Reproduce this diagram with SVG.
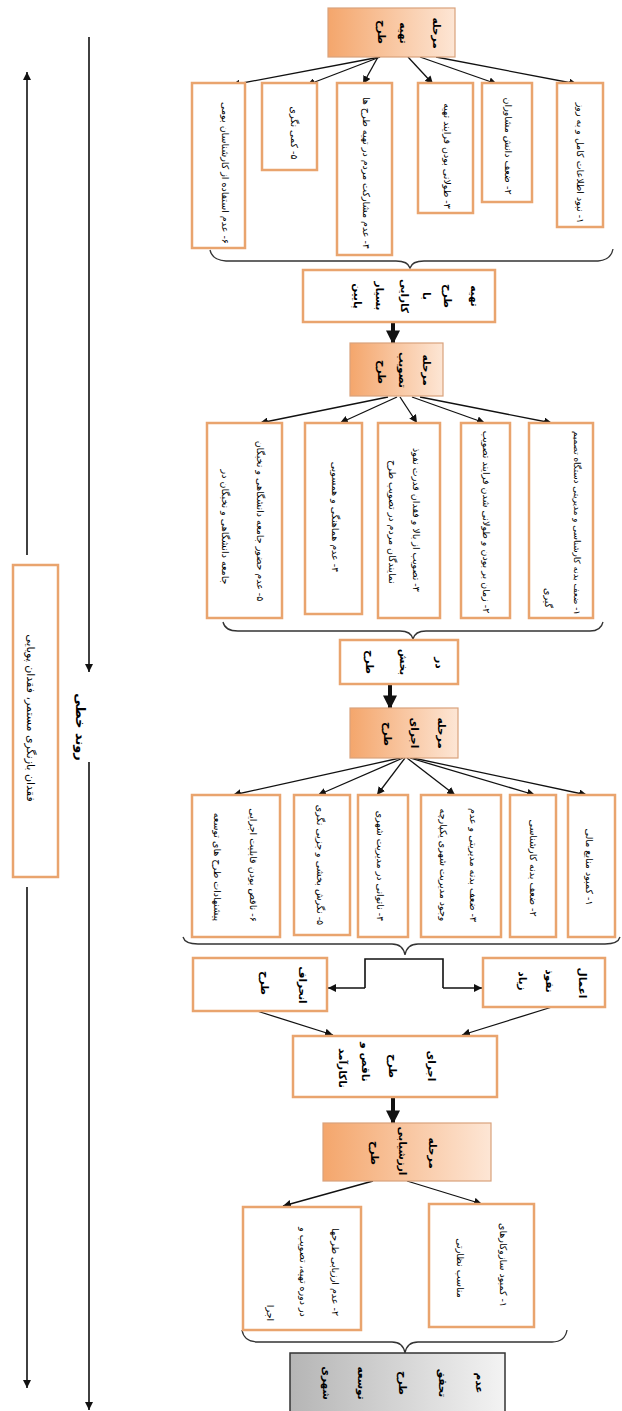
<svg xmlns="http://www.w3.org/2000/svg" width="622" height="1411" viewBox="0 0 622 1411">
<style>
.box{fill:#fff;stroke:#E9A46E;stroke-width:2.5}
.hdr{fill:url(#og);stroke:#D9A27C;stroke-width:1.2}
.gry{fill:url(#gg);stroke:#333;stroke-width:1.5}
.t{font-family:"DejaVu Sans",sans-serif;font-size:9.5px;fill:#000;text-anchor:middle;dominant-baseline:central;direction:rtl}
.h{font-size:10.5px;font-weight:bold}
.b{font-weight:bold}
.c{fill:none;stroke:#111;stroke-width:1.3}
.k{fill:none;stroke:#111;stroke-width:4}
.br{fill:none;stroke:#333;stroke-width:1.3}
</style>
<defs>
<linearGradient id="og" x1="0" y1="0" x2="1" y2="0">
<stop offset="0" stop-color="#F4A66C"/>
<stop offset="1" stop-color="#FDE6D5"/>
</linearGradient>
<linearGradient id="gg" x1="0" y1="0" x2="1" y2="0">
<stop offset="0" stop-color="#B5B5B5"/>
<stop offset="1" stop-color="#F3F3F3"/>
</linearGradient>
<marker id="a" viewBox="0 0 10 10" refX="10" refY="5" markerWidth="8" markerHeight="8" markerUnits="userSpaceOnUse" orient="auto">
<path d="M0,0 L10,5 L0,10 z" fill="#111"/>
</marker>
<marker id="A" viewBox="0 0 10 10" refX="9" refY="5" markerWidth="14" markerHeight="14" markerUnits="userSpaceOnUse" orient="auto">
<path d="M0,0 L10,5 L0,10 z" fill="#111"/>
</marker>
</defs>

<g id="connectors">
<line class="c" x1="380" y1="57" x2="232" y2="85" marker-end="url(#a)"/>
<line class="c" x1="380" y1="57" x2="307" y2="85" marker-end="url(#a)"/>
<line class="c" x1="378" y1="57" x2="363" y2="84" marker-end="url(#a)"/>
<line class="c" x1="408" y1="57" x2="433" y2="84" marker-end="url(#a)"/>
<line class="c" x1="420" y1="57" x2="497" y2="84" marker-end="url(#a)"/>
<line class="c" x1="436" y1="57" x2="577" y2="84" marker-end="url(#a)"/>
<path class="br" d="M210,250 Q212,260 226,261 L396,261 Q408,261 410,268 Q412,261 424,261 L598,261 Q611,260 613,249"/>
<line class="k" x1="393" y1="322" x2="393" y2="343" marker-end="url(#A)"/>
<line class="c" x1="388" y1="397" x2="260" y2="423" marker-end="url(#a)"/>
<line class="c" x1="397" y1="397" x2="340" y2="423" marker-end="url(#a)"/>
<line class="c" x1="400" y1="397" x2="417" y2="423" marker-end="url(#a)"/>
<line class="c" x1="412" y1="397" x2="485" y2="423" marker-end="url(#a)"/>
<line class="c" x1="420" y1="397" x2="552" y2="423" marker-end="url(#a)"/>
<path class="br" d="M223,622 Q225,631 238,631 L400,631 Q411,631 413,639 Q415,631 426,631 L590,631 Q601,631 603,622"/>
<line class="k" x1="390" y1="684" x2="390" y2="708" marker-end="url(#A)"/>
<line class="c" x1="400" y1="758" x2="233" y2="795" marker-end="url(#a)"/>
<line class="c" x1="403" y1="758" x2="318" y2="795" marker-end="url(#a)"/>
<line class="c" x1="405" y1="758" x2="377" y2="795" marker-end="url(#a)"/>
<line class="c" x1="407" y1="758" x2="455" y2="795" marker-end="url(#a)"/>
<line class="c" x1="410" y1="758" x2="535" y2="795" marker-end="url(#a)"/>
<line class="c" x1="413" y1="758" x2="587" y2="795" marker-end="url(#a)"/>
<path class="br" d="M183,937 Q185,944 198,944 L392,944 Q403,944 405,955 Q407,944 418,944 L605,944 Q618,944 620,937"/>
<path class="c" d="M365,988 L365,959 L443,959 L443,988" style="stroke-width:1.6"/>
<line class="c" x1="365" y1="988" x2="328" y2="988" marker-end="url(#a)" style="stroke-width:1.6"/>
<line class="c" x1="443" y1="988" x2="482" y2="988" marker-end="url(#a)" style="stroke-width:1.6"/>
<line class="c" x1="257" y1="1011" x2="333" y2="1035" marker-end="url(#a)"/>
<line class="c" x1="552" y1="1007" x2="462" y2="1035" marker-end="url(#a)"/>
<line class="k" x1="393" y1="1097" x2="393" y2="1123" marker-end="url(#A)"/>
<line class="c" x1="373" y1="1181" x2="283" y2="1206" marker-end="url(#a)"/>
<line class="c" x1="407" y1="1181" x2="482" y2="1204" marker-end="url(#a)"/>
<path class="br" d="M242,1330 Q244,1342 258,1342 L392,1342 Q403,1342 405,1353 Q407,1342 418,1342 L552,1342 Q565,1342 567,1330"/>
<line class="c" x1="27" y1="555" x2="27" y2="72" marker-end="url(#a)" style="stroke-width:1.6"/>
<line class="c" x1="27" y1="887" x2="27" y2="1388" marker-end="url(#a)" style="stroke-width:1.6"/>
<line class="c" x1="89" y1="37" x2="89" y2="672" marker-end="url(#a)" style="stroke-width:1.6"/>
<line class="c" x1="89" y1="762" x2="89" y2="1410" marker-end="url(#a)" style="stroke-width:1.6"/>
</g>

<g id="stage1">
<rect class="hdr" x="328" y="8" width="127" height="49"/>
<text class="t h" transform="translate(437,33) rotate(90)">مرحله</text>
<text class="t h" transform="translate(404,33) rotate(90)">تهیه</text>
<text class="t h" transform="translate(382,32) rotate(90)">طرح</text>
</g>
<g id="s1c1"><rect class="box" x="557" y="83" width="46" height="144"/>
<text class="t" transform="translate(580,163) rotate(90)">۱- نبود اطلاعات کامل و به روز</text></g>
<g id="s1c2"><rect class="box" x="482" y="83" width="50" height="119"/>
<text class="t" transform="translate(508,146) rotate(90)">۲- ضعف دانش مشاوران</text></g>
<g id="s1c3"><rect class="box" x="418" y="83" width="55" height="130"/>
<text class="t" transform="translate(447,156) rotate(90)">۳- طولانی بودن فرایند تهیه</text></g>
<g id="s1c4"><rect class="box" x="337" y="83" width="55" height="172"/>
<text class="t" transform="translate(366,173) rotate(90)">۴- عدم مشارکت مردم در تهیه طرح ها</text></g>
<g id="s1c5"><rect class="box" x="262" y="83" width="55" height="87"/>
<text class="t" transform="translate(294,133) rotate(90)">۵- کمی نگری</text></g>
<g id="s1c6"><rect class="box" x="192" y="83" width="53" height="165"/>
<text class="t" transform="translate(225,173) rotate(90)">۶- عدم استفاده از کارشناسان بومی</text></g>
<g id="s1sum"><rect class="box" x="303" y="270" width="192" height="52"/>
<text class="t h" transform="translate(475,296) rotate(90)">تهیه</text>
<text class="t h" transform="translate(448,296) rotate(90)">طرح</text>
<text class="t h" transform="translate(427,296) rotate(90)">با</text>
<text class="t h" transform="translate(405,296) rotate(90)">کارایی</text>
<text class="t h" transform="translate(380,296) rotate(90)">بسیار</text>
<text class="t h" transform="translate(358,296) rotate(90)">پایین</text>
</g>

<g id="stage2">
<rect class="hdr" x="350" y="343" width="93" height="53"/>
<text class="t h" transform="translate(427,370) rotate(90)">مرحله</text>
<text class="t h" transform="translate(403,370) rotate(90)">تصویب</text>
<text class="t h" transform="translate(382,372) rotate(90)">طرح</text>
</g>
<g id="s2c1"><rect class="box" x="529" y="423" width="64" height="195"/>
<text class="t" style="font-size:8.8px" transform="translate(577,523) rotate(90)">۱- ضعف بدنه کارشناسی و مدیریتی دستگاه تصمیم</text>
<text class="t" transform="translate(548,598) rotate(90)">گیری</text></g>
<g id="s2c2"><rect class="box" x="461" y="423" width="49" height="195"/>
<text class="t" transform="translate(486,522) rotate(90)">۲- زمان بر بودن و طولانی شدن فرایند تصویب</text></g>
<g id="s2c3"><rect class="box" x="378" y="423" width="62" height="195"/>
<text class="t" transform="translate(416,520) rotate(90)">۳- تصویب از بالا و فقدان قدرت نفوذ</text>
<text class="t" transform="translate(392,522) rotate(90)">نمایندگان مردم در تصویب طرح</text></g>
<g id="s2c4"><rect class="box" x="305" y="423" width="57" height="191"/>
<text class="t" transform="translate(335,517) rotate(90)">۴- عدم هماهنگی و همسویی</text></g>
<g id="s2c5"><rect class="box" x="207" y="423" width="75" height="195"/>
<text class="t" transform="translate(260,521) rotate(90)">۵- عدم حضور جامعه دانشگاهی و نخبگان</text>
<text class="t" transform="translate(225,527) rotate(90)">جامعه دانشگاهی و نخبگان در</text></g>
<g id="s2sum"><rect class="box" x="340" y="640" width="118" height="44"/>
<text class="t h" transform="translate(440,663) rotate(90)">در</text>
<text class="t h" transform="translate(404,662) rotate(90)">بخش</text>
<text class="t h" transform="translate(370,662) rotate(90)">طرح</text>
</g>

<g id="stage3">
<rect class="hdr" x="350" y="708" width="108" height="50"/>
<text class="t h" transform="translate(442,733) rotate(90)">مرحله</text>
<text class="t h" transform="translate(415,733) rotate(90)">اجرای</text>
<text class="t h" transform="translate(388,734) rotate(90)">طرح</text>
</g>
<g id="s3c1"><rect class="box" x="568" y="795" width="47" height="142"/>
<text class="t" transform="translate(589,867) rotate(90)">۱- کمبود منابع مالی</text></g>
<g id="s3c2"><rect class="box" x="510" y="795" width="46" height="142"/>
<text class="t" transform="translate(533,868) rotate(90)">۲- ضعف بدنه کارشناسی</text></g>
<g id="s3c3"><rect class="box" x="421" y="795" width="80" height="142"/>
<text class="t" transform="translate(473,865) rotate(90)">۳- ضعف بدنه مدیریتی و عدم</text>
<text class="t" transform="translate(443,865) rotate(90)">وجود مدیریت شهری یکپارچه</text></g>
<g id="s3c4"><rect class="box" x="358" y="795" width="50" height="142"/>
<text class="t" transform="translate(380,866) rotate(90)">۴- ناتوانی در مدیریت شهری</text></g>
<g id="s3c5"><rect class="box" x="294" y="795" width="56" height="140"/>
<text class="t" transform="translate(320,865) rotate(90)">۵- نگرش بخشی و جزیی نگری</text></g>
<g id="s3c6"><rect class="box" x="192" y="795" width="88" height="142"/>
<text class="t" transform="translate(253,865) rotate(90)">۶- ناقص بودن قابلیت اجرایی</text>
<text class="t" transform="translate(217,867) rotate(90)">پیشنهادات طرح های توسعه</text></g>
<g id="deviation"><rect class="box" x="193" y="958" width="134" height="53"/>
<text class="t h" transform="translate(303,985) rotate(90)">انحراف</text>
<text class="t h" transform="translate(265,983) rotate(90)">طرح</text></g>
<g id="influence"><rect class="box" x="483" y="958" width="122" height="49"/>
<text class="t h" transform="translate(583,983) rotate(90)">اعمال</text>
<text class="t h" transform="translate(550,981) rotate(90)">نفوذ</text>
<text class="t h" transform="translate(523,981) rotate(90)">زیاد</text></g>
<g id="s3sum"><rect class="box" x="293" y="1036" width="204" height="61"/>
<text class="t h" transform="translate(432,1066) rotate(90)">اجرای</text>
<text class="t h" transform="translate(393,1066) rotate(90)">طرح</text>
<text class="t h" transform="translate(366,1062) rotate(90)">ناقص و</text>
<text class="t h" transform="translate(343,1068) rotate(90)">ناکارآمد</text>
</g>

<g id="stage4">
<rect class="hdr" x="323" y="1123" width="168" height="58"/>
<text class="t h" transform="translate(433,1153) rotate(90)">مرحله</text>
<text class="t h" transform="translate(403,1151) rotate(90)">ارزشیابی</text>
<text class="t h" transform="translate(375,1153) rotate(90)">طرح</text>
</g>
<g id="s4c1"><rect class="box" x="429" y="1204" width="105" height="123"/>
<text class="t" transform="translate(503,1265) rotate(90)">۱- کمبود سازوکارهای</text>
<text class="t" transform="translate(460,1268) rotate(90)">مناسب نظارتی</text></g>
<g id="s4c2"><rect class="box" x="243" y="1207" width="118" height="123"/>
<text class="t" transform="translate(335,1272) rotate(90)">۲- عدم ارزیابی طرحها</text>
<text class="t" transform="translate(303,1272) rotate(90)">در دوره تهیه، تصویب و</text>
<text class="t" transform="translate(270,1313) rotate(90)">اجرا</text></g>
<g id="final"><rect class="gry" x="290" y="1353" width="215" height="62"/>
<text class="t h" transform="translate(480,1383) rotate(90)">عدم</text>
<text class="t h" transform="translate(443,1383) rotate(90)">تحقق</text>
<text class="t h" transform="translate(403,1383) rotate(90)">طرح</text>
<text class="t h" transform="translate(362,1383) rotate(90)">توسعه</text>
<text class="t h" transform="translate(327,1383) rotate(90)">شهری</text>
</g>

<g id="sidebox"><rect class="box" x="13" y="565" width="45" height="312"/>
<text class="t" style="font-size:11px" transform="translate(30,718) rotate(90)">فقدان بازنگری مستمر، فقدان پویایی</text></g>
<g id="linear"><text class="t b" style="font-size:13px" transform="translate(80,727) rotate(90)">روند خطی</text></g>
</svg>
